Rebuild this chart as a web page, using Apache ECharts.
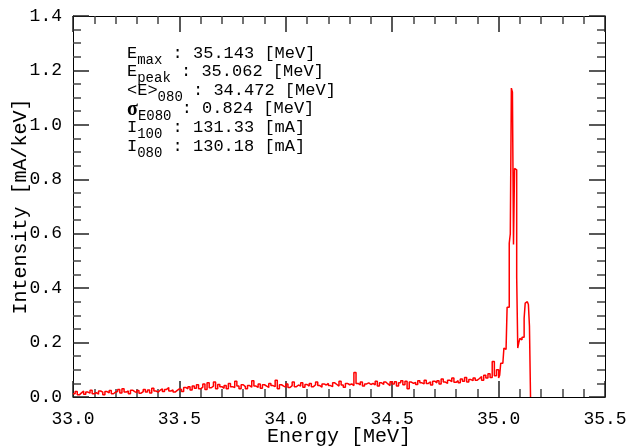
<!DOCTYPE html>
<html>
<head>
<meta charset="utf-8">
<script src="https://cdn.jsdelivr.net/npm/echarts@6/dist/echarts.min.js"></script>
<style>html,body{margin:0;padding:0;background:#fff;}#c{width:629px;height:447px;}</style>
</head>
<body>
<div id="c"></div>
<script>
// Baseline region: bins of 0.01 MeV starting at 33.00
const baseStart = 33.0;
const baseWidth = 0.01;
const baseIntensity = [
  0.012,0.020,0.008,0.015,0.022,0.010,0.018,0.014,0.025,0.012,
  0.016,0.010,0.022,0.018,0.008,0.020,0.015,0.024,0.012,0.018,
  0.020,0.028,0.015,0.030,0.018,0.022,0.012,0.025,0.020,0.016,
  0.024,0.014,0.020,0.028,0.018,0.026,0.015,0.032,0.022,0.018,
  0.025,0.030,0.020,0.028,0.035,0.022,0.026,0.018,0.024,0.030,
  0.028,0.020,0.035,0.030,0.038,0.026,0.040,0.032,0.045,0.030,
  0.036,0.048,0.028,0.052,0.034,0.040,0.055,0.030,0.046,0.038,
  0.032,0.042,0.030,0.050,0.038,0.035,0.058,0.040,0.030,0.045,
  0.038,0.030,0.042,0.036,0.060,0.040,0.035,0.048,0.032,0.045,
  0.040,0.035,0.050,0.042,0.038,0.062,0.030,0.045,0.040,0.036,
  0.048,0.035,0.042,0.055,0.038,0.044,0.040,0.052,0.036,0.046,
  0.040,0.050,0.038,0.045,0.055,0.042,0.036,0.048,0.044,0.050,
  0.042,0.038,0.052,0.046,0.040,0.058,0.044,0.036,0.050,0.045,
  0.048,0.042,0.090,0.050,0.044,0.055,0.040,0.048,0.052,0.046,
  0.050,0.044,0.058,0.040,0.052,0.046,0.055,0.048,0.042,0.056,
  0.048,0.056,0.040,0.052,0.060,0.045,0.058,0.030,0.055,0.050,
  0.054,0.046,0.060,0.052,0.048,0.062,0.050,0.056,0.044,0.058,
  0.052,0.060,0.048,0.066,0.055,0.050,0.062,0.056,0.070,0.054,
  0.060,0.052,0.066,0.058,0.072,0.055,0.064,0.060,0.070,0.062,
  0.068,0.075,0.062,0.080,0.070,0.085,0.072,0.130,0.078,0.100
];
// Peak region: bins of 0.005 MeV starting at 35.000
const peakStart = 35.0;
const peakWidth = 0.005;
const peakIntensity = [
  0.070,0.080,0.124,0.124,0.130,0.180,0.175,0.180,0.330,0.330,
  0.565,0.600,1.135,1.120,0.560,0.840,0.835,0.440,0.180,0.200,
  0.215,0.210,0.220,0.220,0.290,0.345,0.350,0.345,0.340,0.260
];
const xTicks = { min: 33.0, max: 35.5, interval: 0.5 };
const yTicks = { min: 0.0, max: 1.4, interval: 0.2 };
const xTitle = 'Energy [MeV]';
const yTitle = 'Intensity [mA/keV]';
// annotation lines: [lead, subscript, rest]
const annotLines = [
  ['E', 'max', ' : 35.143 [MeV]'],
  ['E', 'peak', ' : 35.062 [MeV]'],
  ['<E>', '080', ' : 34.472 [MeV]'],
  ['σ', 'E080', ' : 0.824 [MeV]'],
  ['I', '100', ' : 131.33 [mA]'],
  ['I', '080', ' : 130.18 [mA]']
];

const data = [];
baseIntensity.forEach((v, i) => data.push([+(baseStart + i * baseWidth).toFixed(4), v]));
peakIntensity.forEach((v, i) => data.push([+(peakStart + i * peakWidth).toFixed(4), v]));
data.push([+(peakStart + peakIntensity.length * peakWidth).toFixed(4), 0]);

const FONT = 'Liberation Mono';
const richStyles = {
  m: { fontFamily: FONT, fontSize: 17, lineHeight: 18, verticalAlign: 'top', fill: '#000' },
  g: { fontFamily: 'Liberation Serif', fontSize: 20, fontWeight: 'bold', lineHeight: 18, verticalAlign: 'top', fill: '#000' },
  s: { fontFamily: FONT, fontSize: 14, lineHeight: 18, verticalAlign: 'top', padding: [8.5, 0, 0, 0], fill: '#000' }
};
const annotGraphics = annotLines.map((l, i) => ({
  type: 'text',
  left: 127,
  top: 44.5 + i * 18.6,
  style: {
    text: '{' + (l[0] === 'σ' ? 'g' : 'm') + '|' + l[0] + '}{s|' + l[1] + '}{m|' + l[2] + '}',
    fill: '#000',
    rich: richStyles
  }
}));

function axisBase(pos, range, minorSplit, extra) {
  return Object.assign({
    type: 'value', position: pos,
    min: range.min, max: range.max, interval: range.interval,
    axisLine: { show: true, onZero: false, lineStyle: { color: '#000', width: 1 } },
    axisTick: { show: true, inside: true, length: 16, lineStyle: { color: '#222', width: 1.5 } },
    minorTick: { show: true, splitNumber: minorSplit, length: 8, lineStyle: { color: '#444', width: 1.5 } },
    splitLine: { show: false },
    axisLabel: { show: false },
    nameMoveOverlap: false
  }, extra);
}

const chart = echarts.init(document.getElementById('c'));
chart.setOption({
  animation: false,
  backgroundColor: '#fff',
  grid: { left: 73, right: 24, top: 16, bottom: 50, outerBoundsMode: 'none' },
  xAxis: [
    axisBase('bottom', xTicks, 5, {
      axisLabel: { show: true, color: '#000', fontFamily: FONT, fontSize: 18, margin: 13, formatter: v => v.toFixed(1) },
      name: xTitle, nameLocation: 'middle', nameGap: 30,
      nameTextStyle: { color: '#000', fontFamily: FONT, fontSize: 20 }
    }),
    axisBase('top', xTicks, 5, {})
  ],
  yAxis: [
    axisBase('left', yTicks, 4, {
      axisLabel: { show: true, color: '#000', fontFamily: FONT, fontSize: 18, margin: 11, formatter: v => v.toFixed(1) },
      name: yTitle, nameLocation: 'middle', nameGap: 42,
      nameTextStyle: { color: '#000', fontFamily: FONT, fontSize: 20 }
    }),
    axisBase('right', yTicks, 4, {})
  ],
  series: [{
    type: 'line',
    xAxisIndex: 0,
    yAxisIndex: 0,
    step: 'end',
    showSymbol: false,
    symbol: 'none',
    lineStyle: { color: '#ff0000', width: 1.5 },
    data: data
  }],
  graphic: annotGraphics
});
</script>
</body>
</html>
